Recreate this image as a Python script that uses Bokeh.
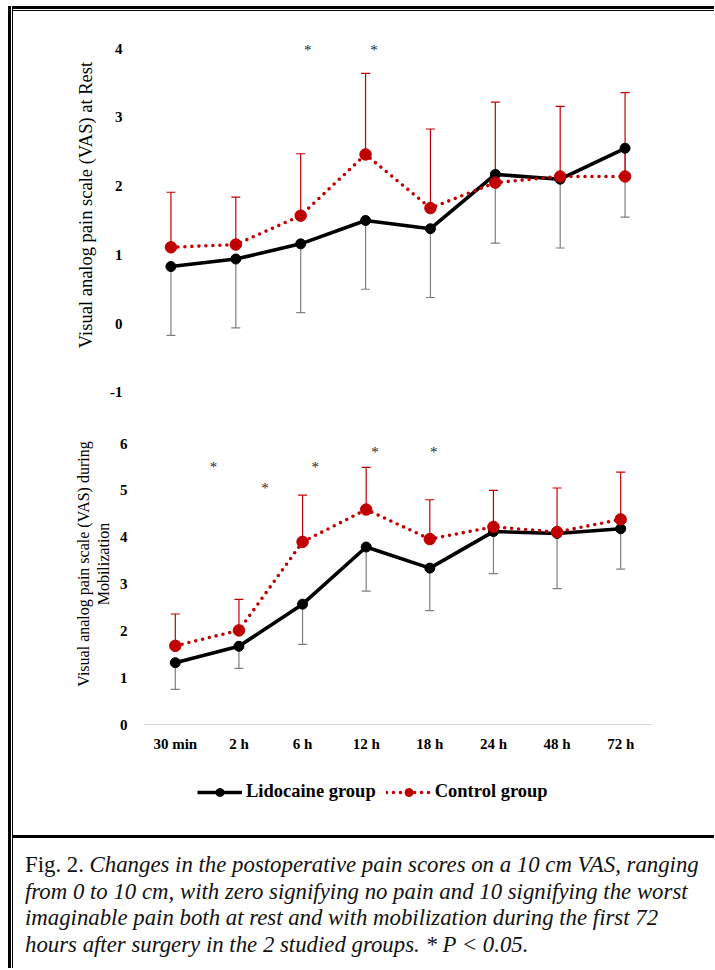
from bokeh.plotting import figure
from bokeh.models import (ColumnDataSource, FactorRange, Range1d, FixedTicker, Whisker,
                          TeeHead, Legend, LegendItem, Div)
from bokeh.layouts import column, row
from bokeh.embed import file_html
from bokeh.resources import INLINE
from bokeh.core.properties import value

# ---------------- data ----------------
times = ["30 min", "2 h", "6 h", "12 h", "18 h", "24 h", "48 h", "72 h"]

rest_lido_mean = [0.83, 0.94, 1.16, 1.50, 1.38, 2.17, 2.10, 2.55]
rest_lido_sd = [1.00, 1.00, 1.00, 1.00, 1.00, 1.00, 1.00, 1.00]
rest_ctrl_mean = [1.11, 1.15, 1.57, 2.46, 1.68, 2.05, 2.14, 2.14]
rest_ctrl_sd = [0.80, 0.69, 0.90, 1.18, 1.15, 1.17, 1.02, 1.22]

mob_lido_mean = [1.32, 1.67, 2.57, 3.79, 3.34, 4.12, 4.08, 4.18]
mob_lido_sd = [0.57, 0.47, 0.86, 0.94, 0.91, 0.90, 1.18, 0.86]
mob_ctrl_mean = [1.68, 2.01, 3.90, 4.59, 3.96, 4.22, 4.11, 4.38]
mob_ctrl_sd = [0.68, 0.66, 1.00, 0.90, 0.84, 0.78, 0.94, 1.01]

rest_ticks = [-1, 0, 1, 2, 3, 4]
mob_ticks = [0, 1, 2, 3, 4, 5, 6]

# significance markers (x in category units, 0.5 = centre of first category)
rest_star_x = [2.61, 3.63]
rest_star_y = [3.98, 3.98]
mob_star_x = [1.10, 1.91, 2.70, 3.64, 4.56]
mob_star_y = [5.50, 5.06, 5.50, 5.82, 5.82]

legend_labels = ["Lidocaine group", "Control group"]

caption_lines = [
    "Changes in the postoperative pain scores on a 10 cm VAS, ranging",
    "from 0 to 10 cm, with zero signifying no pain and 10 signifying the worst",
    "imaginable pain both at rest and with mobilization during the first 72",
    "hours after surgery in the 2 studied groups. * P &lt; 0.05.",
]

# ---------------- style ----------------
RED = "#c00000"
GRAY = "#7f7f7f"
SERIF = "Liberation Serif"
W = 701          # content width
SHIFT = 5        # extra left offset of the lower chart
P1_H = 4 + 379 + 8
P2_H = 1 + 321 + 41
P3_H = 70


def base_fig(**kw):
    p = figure(output_backend="svg", toolbar_location=None, margin=0, **kw)
    p.outline_line_color = None
    p.grid.visible = False
    p.background_fill_color = "white"
    p.border_fill_color = "white"
    return p


def make_panel(width, left, fw, top, fh, bottom, yr, ticks, ylabel, label_size,
               label_standoff, show_x):
    p = base_fig(x_range=FactorRange(*times, range_padding=0),
                 y_range=Range1d(*yr), frame_width=fw, frame_height=fh,
                 min_border_left=left, min_border_right=width - left - fw,
                 min_border_top=top, min_border_bottom=bottom)
    ya = p.yaxis[0]
    ya.ticker = FixedTicker(ticks=ticks)
    ya.major_label_overrides = {t: str(t) for t in ticks}
    ya.axis_line_color = None
    ya.major_tick_line_color = None
    ya.minor_tick_line_color = None
    ya.major_label_standoff = 10
    ya.major_label_text_font = SERIF
    ya.major_label_text_font_style = "bold"
    ya.major_label_text_font_size = "15px"
    ya.major_label_text_color = "#000000"
    ya.axis_label = ylabel
    ya.axis_label_text_font = SERIF
    ya.axis_label_text_font_style = "normal"
    ya.axis_label_text_font_size = label_size
    ya.axis_label_text_color = "#000000"
    ya.axis_label_standoff = label_standoff
    xa = p.xaxis[0]
    if show_x:
        xa.axis_line_color = "#d9d9d9"
        xa.axis_line_width = 1.2
        xa.major_tick_line_color = None
        xa.minor_tick_line_color = None
        xa.major_label_standoff = 5
        xa.major_label_text_font = SERIF
        xa.major_label_text_font_style = "bold"
        xa.major_label_text_font_size = "15px"
        xa.major_label_text_color = "#000000"
    else:
        xa.visible = False
    return p


def draw_series(p, src_l, src_c):
    l1 = p.line("x", "y", source=src_l, line_color="black", line_width=3.6, line_join="round")
    s1 = p.scatter("x", "y", source=src_l, size=10, fill_color="black", line_color="black")
    l2 = p.line("x", "y", source=src_c, line_color=RED, line_width=3.6, line_dash="0 7",
                line_cap="round")
    s2 = p.scatter("x", "y", source=src_c, size=11.5, fill_color=RED, line_color=RED)
    return l1, s1, l2, s2


def add_series(p, lido_mean, lido_sd, ctrl_mean, ctrl_sd, sx, sy):
    src_l = ColumnDataSource(dict(x=times, y=lido_mean,
                                  lo=[m - s for m, s in zip(lido_mean, lido_sd)]))
    src_c = ColumnDataSource(dict(x=times, y=ctrl_mean,
                                  hi=[m + s for m, s in zip(ctrl_mean, ctrl_sd)]))
    p.add_layout(Whisker(base="x", lower="lo", upper="y", source=src_l,
                         line_color=GRAY, line_width=1.2,
                         lower_head=TeeHead(size=9, line_color=GRAY, line_width=1.2),
                         upper_head=None))
    p.add_layout(Whisker(base="x", lower="y", upper="hi", source=src_c,
                         line_color=RED, line_width=1.2,
                         upper_head=TeeHead(size=9, line_color=RED, line_width=1.2),
                         lower_head=None))
    draw_series(p, src_l, src_c)
    p.text(x=sx, y=sy, text=["*"] * len(sx), text_font=value(SERIF), text_font_size="15px",
           text_color="#262626", text_align="center", text_baseline="middle")
    return src_l, src_c


# upper chart: at rest
p1 = make_panel(W, 125, 519, 4, 379, 8, (-1.03, 4.48), rest_ticks,
                "Visual analog pain scale (VAS) at Rest", "18.5px", 11, False)
add_series(p1, rest_lido_mean, rest_lido_sd, rest_ctrl_mean, rest_ctrl_sd,
           rest_star_x, rest_star_y)

# lower chart: during mobilization
p2 = make_panel(W - SHIFT, 125, 509, 1, 321, 41, (0, 6.855), mob_ticks,
                "Visual analog pain scale (VAS) during\nMobilization", "16px", 5, True)
mob_src_l, mob_src_c = add_series(p2, mob_lido_mean, mob_lido_sd, mob_ctrl_mean, mob_ctrl_sd,
                                  mob_star_x, mob_star_y)

# legend strip (series drawn off-range, only their legend swatches show)
p3 = base_fig(width=W, height=P3_H, x_range=FactorRange(*times, range_padding=0),
              y_range=Range1d(100, 101), min_border=0)
p3.axis.visible = False
g1, g2, g3, g4 = draw_series(p3, mob_src_l, mob_src_c)
legend = Legend(items=[LegendItem(label=legend_labels[0], renderers=[g1, g2]),
                       LegendItem(label=legend_labels[1], renderers=[g3, g4])],
                orientation="horizontal", location=(59, 33),
                label_text_font=SERIF, label_text_font_style="bold",
                label_text_font_size="18.5px", label_text_color="#000000",
                glyph_width=45, glyph_height=20, label_standoff=4, spacing=10,
                border_line_color=None, background_fill_alpha=0, padding=0, margin=0)
p3.add_layout(legend, "center")


def bar(w, h, color):
    return Div(text="", width=w, height=h, margin=0, styles={"background-color": color})


cap_html = ('<div style="font-family:\'Liberation Serif\',serif;font-size:22.8px;'
            'line-height:26.7px;padding:14px 0 0 12px;white-space:nowrap;color:#111;">'
            'Fig. 2. <i>' + caption_lines[0] + '</i><br><i>' +
            '</i><br><i>'.join(caption_lines[1:]) + '</i></div>')
CAP_H = 130
cap = Div(text=cap_html, width=W, height=CAP_H, margin=0)

H_CONTENT = 3 + 1 + 1 + P1_H + P2_H + P3_H + 3 + CAP_H
content = column(bar(W, 3, "#000"), bar(W, 1, "#fff"), bar(W, 1, "#000"),
                 p1,
                 row(bar(SHIFT, P2_H, "#fff"), p2, spacing=0, margin=0),
                 p3,
                 bar(W, 3, "#000"), cap, spacing=0, margin=0)
framed = row(bar(8, H_CONTENT, "#fff"), bar(3, H_CONTENT, "#000"), bar(1, H_CONTENT, "#fff"),
             bar(1, H_CONTENT, "#000"), content, spacing=0, margin=0)
root = column(bar(W + 13, 6, "#fff"), framed, spacing=0, margin=0)

open("out.html", "w").write(file_html(root, INLINE))
